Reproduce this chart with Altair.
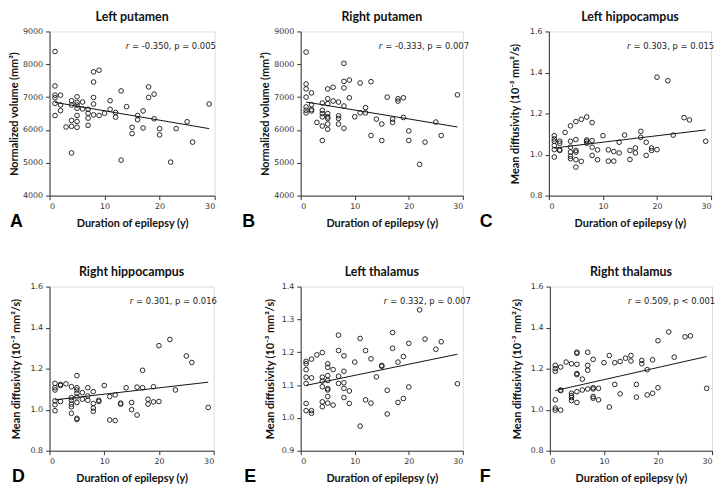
import altair as alt
import pandas as pd

# ---------------- data ----------------
# A: Left putamen (normalized volume, mm^3)
a_dur = [1,1,1,1,1,1,2,2,2,3,4,4,4,4,4,5,5,5,5,5,5,5,6,6,7,7,7,7,8,8,8,8,8,9,9,10,11,11,12,12,13,13,14,15,15,16,16,17,17,18,18,19,19,20,20,22,23,25,26,29]
a_val = [8390,7340,7060,6980,6810,6440,7060,6760,6590,6090,6890,6760,6290,6110,5300,7010,6840,6760,6660,6440,6260,6080,6850,6640,6630,6510,6360,6140,7770,7460,6990,6790,6460,7820,6440,6510,6890,6630,6530,6390,7190,5080,6710,6080,5890,6440,6310,6580,6060,7310,6990,7090,6340,6040,5850,5020,6040,6250,5630,6790]

# B: Right putamen
b_dur = [1,1,1,1,1,1,1,2,2,2,2,3,4,4,4,4,4,4,5,5,5,5,5,5,5,5,6,6,7,7,7,7,8,8,8,8,8,9,9,10,11,11,12,12,13,13,14,15,15,16,17,17,18,18,19,19,20,20,22,23,25,26,29]
b_val = [8370,7400,7250,7000,6700,6600,6520,7130,6770,6620,6580,6230,6820,6600,6500,6400,6120,5680,7250,6950,6800,6500,6400,6350,6180,6020,7300,6880,6850,6430,6350,6180,8030,7480,7280,6730,6050,7520,6980,6400,7430,6520,6680,6520,7470,5830,6330,6180,5680,7000,6330,6230,6950,6880,6980,6380,5970,5680,4950,5630,6240,5830,7070]

# C: Left hippocampus (mean diffusivity, 10^-3 mm^2/s)
c_dur = [1,1,1,1,1,1,2,2,2,2,3,4,4,4,4,4,4,5,5,5,5,5,5,6,6,7,7,7,7,8,8,8,8,9,9,10,11,11,12,12,13,13,14,15,15,16,16,17,17,18,18,19,19,20,20,22,23,25,26,29]
c_val = [1.092,1.076,1.065,1.044,1.024,0.988,1.065,1.055,1.023,1.020,1.108,1.140,1.065,1.036,1.012,0.992,0.980,1.161,1.073,1.020,1.012,0.975,0.939,1.172,0.967,1.183,1.071,1.065,1.055,1.156,1.068,1.036,0.996,1.023,0.975,1.092,1.023,0.968,1.015,0.968,1.060,1.008,1.095,1.020,0.976,1.032,1.008,1.113,1.084,1.060,0.996,1.032,1.020,1.024,1.377,1.360,1.095,1.180,1.169,1.065]

# D: Right hippocampus
d_dur = [1,1,1,1,1,1,2,2,2,3,4,4,4,4,4,4,5,5,5,5,5,5,5,5,6,6,7,7,7,8,8,8,8,9,9,10,11,11,12,12,13,13,14,15,15,16,16,17,17,18,18,19,19,20,20,22,23,25,26,29]
d_val = [1.128,1.107,1.096,1.043,1.024,0.995,1.123,1.118,1.040,1.126,1.112,1.059,1.046,1.027,1.014,0.982,1.166,1.107,1.096,1.080,1.062,1.035,0.958,0.952,1.083,1.051,1.107,1.067,1.046,1.088,1.030,1.008,0.992,1.046,1.040,1.118,1.064,0.950,1.072,0.947,1.032,1.027,1.107,1.035,1.000,1.110,0.974,1.192,1.107,1.051,1.027,1.112,1.038,1.312,1.040,1.342,1.096,1.262,1.230,1.011]

# E: Left thalamus
e_dur = [1,1,1,1,1,1,1,2,2,2,2,3,4,4,4,4,4,4,5,5,5,5,5,5,5,5,6,6,7,7,7,7,8,8,8,8,8,9,9,10,11,11,12,12,13,13,14,15,15,16,16,17,17,18,18,19,19,20,20,22,23,25,26,29]
e_val = [1.172,1.165,1.147,1.124,1.105,1.044,1.022,1.179,1.122,1.022,1.014,1.192,1.199,1.124,1.112,1.095,1.049,1.034,1.165,1.154,1.129,1.114,1.089,1.085,1.065,1.045,1.147,1.039,1.252,1.205,1.127,1.105,1.189,1.142,1.107,1.090,1.062,1.082,1.044,1.170,1.242,0.975,1.205,1.055,1.180,1.045,1.125,1.160,1.157,1.084,1.012,1.260,1.212,1.170,1.047,1.187,1.059,1.227,1.094,1.329,1.240,1.209,1.232,1.104]

# F: Right thalamus
f_dur = [1,1,1,1,1,1,2,2,2,2,3,4,4,4,4,4,5,5,5,5,5,5,5,6,6,7,7,7,7,8,8,8,8,8,9,9,10,11,11,12,12,13,13,14,15,15,16,16,17,17,18,18,19,19,20,20,22,23,25,26,29]
f_val = [1.216,1.200,1.187,1.048,1.008,0.998,1.208,1.096,1.093,0.998,1.232,1.224,1.080,1.069,1.059,1.045,1.280,1.275,1.221,1.176,1.171,1.088,1.035,1.149,1.096,1.280,1.216,1.192,1.101,1.245,1.107,1.101,1.064,1.056,1.104,1.048,1.229,1.264,1.013,1.229,1.123,1.235,1.077,1.251,1.264,1.237,1.123,1.061,1.240,1.224,1.195,1.072,1.243,1.080,1.336,1.107,1.379,1.256,1.355,1.360,1.104]

# fitted lines (end points)
fit_dur = [1, 29]
fit_vals = {
    "A": [6840, 6040], "B": [6850, 6090], "C": [1.032, 1.120],
    "D": [1.048, 1.134], "E": [1.099, 1.194], "F": [1.093, 1.259],
}
titles = {"A": "Left putamen", "B": "Right putamen", "C": "Left hippocampus",
          "D": "Right hippocampus", "E": "Left thalamus", "F": "Right thalamus"}
r_vals = {"A": "-0.350", "B": "-0.333", "C": "0.303", "D": "0.301", "E": "0.332", "F": "0.509"}
p_vals = {"A": "= 0.005", "B": "= 0.007", "C": "= 0.015", "D": "= 0.016", "E": "= 0.007", "F": "< 0.001"}
x_ticks = [0, 10, 20, 30]
vol_ticks = [4000, 5000, 6000, 7000, 8000, 9000]
md_ticks = [0.8, 1.0, 1.2, 1.4, 1.6]
thal_ticks = [0.9, 1.0, 1.1, 1.2, 1.3, 1.4]
vol_title = "Normalized volume (mm³)"
md_title = "Mean diffusivity (10⁻³ mm²/s)"
x_title = "Duration of epilepsy (y)"

data = {"A": (a_dur, a_val), "B": (b_dur, b_val), "C": (c_dur, c_val),
        "D": (d_dur, d_val), "E": (e_dur, e_val), "F": (f_dur, f_val)}

# ---------------- layout / style ----------------
H = 166
layout = {
    "A": dict(w=167, lx=-40, sx=77, tx=-35, yt=vol_ticks, fmt="d", yl=vol_title),
    "B": dict(w=164, lx=-59, sx=79, tx=-36, yt=vol_ticks, fmt="d", yl=vol_title),
    "C": dict(w=164, lx=-70, sx=79, tx=-34, yt=md_ticks, fmt=".1f", yl=md_title),
    "D": dict(w=166, lx=-38, sx=81, tx=-33, yt=md_ticks, fmt=".1f", yl=md_title),
    "E": dict(w=164, lx=-57, sx=84, tx=-30, yt=thal_ticks, fmt=".1f", yl=md_title),
    "F": dict(w=164, lx=-71, sx=79, tx=-33, yt=md_ticks, fmt=".1f", yl=md_title),
}

LABEL_FONT = "DejaVu Sans"
TITLE_FONT = "Lato"


def panel(key):
    L = layout[key]
    W = L["w"]
    xs, ys = data[key]
    df = pd.DataFrame({"x": xs, "y": ys})
    fit = pd.DataFrame({"x": fit_dur, "y": fit_vals[key]})
    yt = L["yt"]
    x_scale = alt.Scale(domain=[0, 30], nice=False, zero=False)
    y_scale = alt.Scale(domain=[yt[0], yt[-1]], nice=False, zero=False)
    x_axis = alt.Axis(values=x_ticks, title=x_title, titleY=28, titleBaseline="middle",
                      grid=False, tickSize=4, labelPadding=3, domainColor="#333",
                      tickColor="#333", labelColor="#333", labelFont=LABEL_FONT,
                      labelFontSize=8, titleFont=TITLE_FONT, titleFontSize=11,
                      titleFontWeight="bold", titleColor="#111")
    y_axis = alt.Axis(values=yt, format=L["fmt"], title=L["yl"], titleX=L["tx"],
                      titleBaseline="middle", grid=False, tickSize=4, labelPadding=3,
                      domainColor="#333", tickColor="#333", labelColor="#333",
                      labelFont=LABEL_FONT, labelFontSize=8, titleFont=TITLE_FONT,
                      titleFontSize=11, titleFontWeight="bold", titleColor="#111")
    X = alt.X("x:Q", scale=x_scale, axis=x_axis)
    Y = alt.Y("y:Q", scale=y_scale, axis=y_axis)
    pts = alt.Chart(df).mark_point(shape="circle", filled=False, color="#111",
                                   size=22, strokeWidth=0.9, opacity=1).encode(x=X, y=Y)
    line = alt.Chart(fit).mark_line(color="#111", strokeWidth=1).encode(x=X, y=Y)
    lab = pd.DataFrame({"t": [titles[key]], "r": ["r"],
                        "s": [f"= {r_vals[key]}, p {p_vals[key]}"], "k": [key]})
    base = alt.Chart(lab)
    ttl = base.mark_text(font=TITLE_FONT, fontSize=12.5, fontWeight="bold", color="#111",
                         baseline="middle", align="center").encode(
        text="t:N", x=alt.value(W / 2), y=alt.value(-14.5))
    r_it = base.mark_text(font=LABEL_FONT, fontSize=8.5, fontStyle="italic", color="#222",
                          baseline="middle", align="left").encode(
        text="r:N", x=alt.value(L["sx"]), y=alt.value(14.5))
    stat = base.mark_text(font=LABEL_FONT, fontSize=8.5, color="#222",
                          baseline="middle", align="left").encode(
        text="s:N", x=alt.value(L["sx"] + 6.5), y=alt.value(14.5))
    letter = base.mark_text(font="Liberation Sans", fontSize=18, fontWeight="bold",
                            color="#000", baseline="middle", align="left").encode(
        text="k:N", x=alt.value(L["lx"]), y=alt.value(H + 27))
    return alt.layer(pts, line, ttl, r_it, stat, letter).properties(width=W, height=H)


row1 = alt.hconcat(panel("A"), panel("B"), panel("C"), spacing=87, bounds="flush")
row2 = alt.hconcat(panel("D"), panel("E"), panel("F"), spacing=88, bounds="flush")
chart = alt.vconcat(row1, row2, spacing=34).properties(padding=0).configure_view(
    stroke=None).configure(background="white")

chart.save("out.html", embed_options={"renderer": "svg", "actions": False})
